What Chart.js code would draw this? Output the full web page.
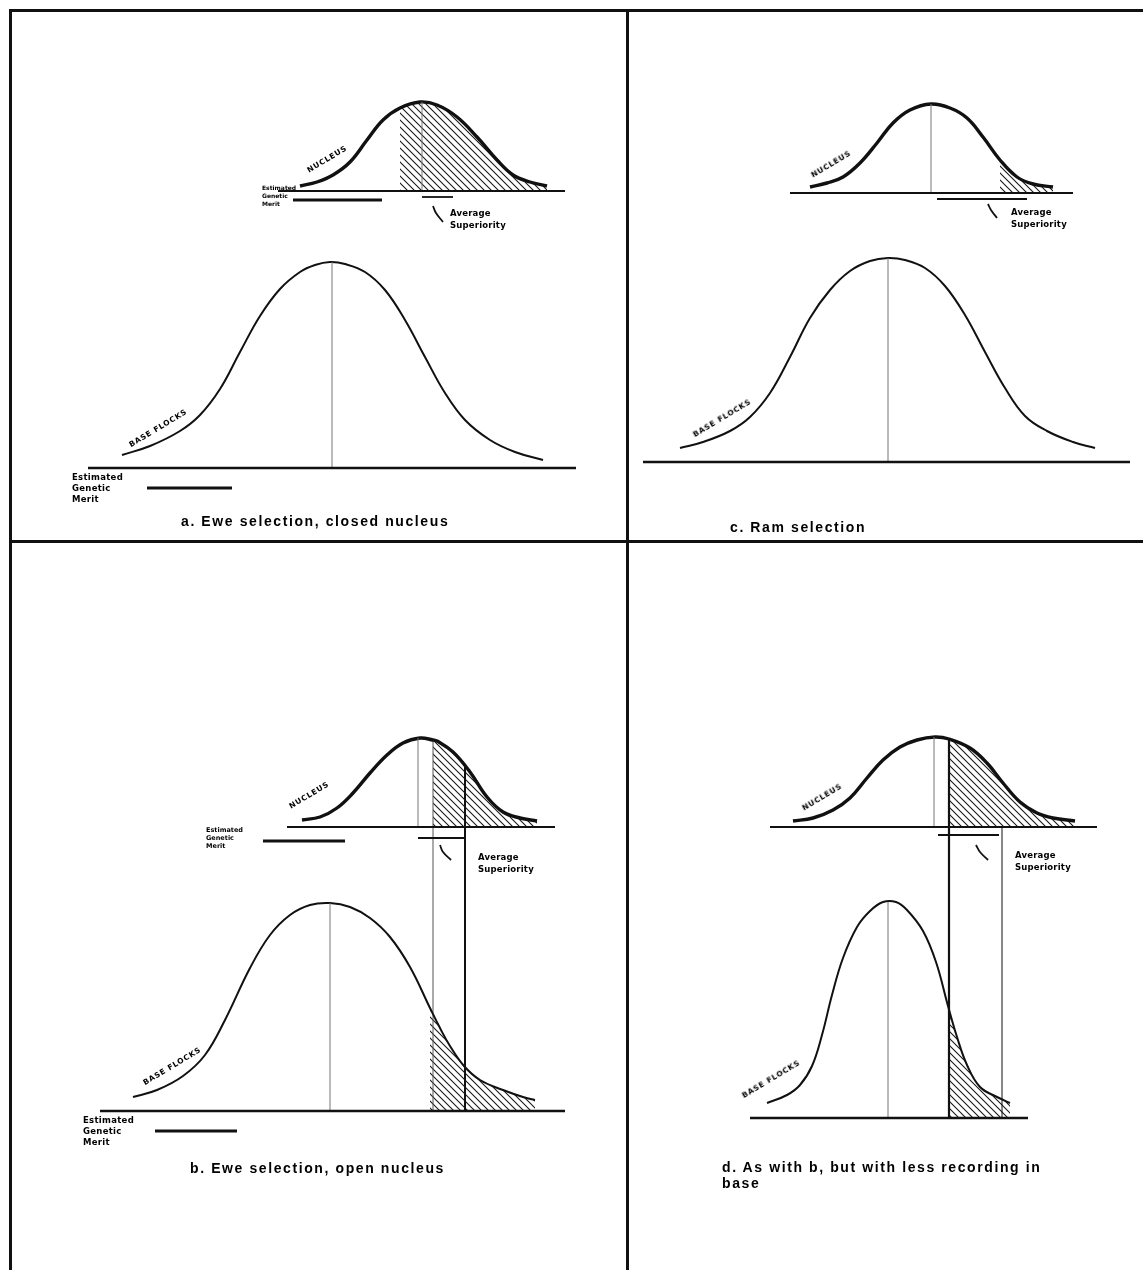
<!DOCTYPE html>
<html lang="en">
<head>
<meta charset="UTF-8">
<title>Nucleus breeding schemes</title>
<script src="https://cdn.jsdelivr.net/npm/chart.js"></script>
<style>
  body { margin: 0; background: #fff; }
  #page { position: relative; width: 1143px; height: 1270px; overflow: hidden; font-family: "Liberation Sans", Arial, sans-serif; }
  .panel { position: absolute; }
  .panel canvas { position: absolute; left: 0; top: 0; }
  .rule { position: absolute; background: #111; }
  .lbl { position: absolute; white-space: nowrap; font-weight: bold; color: #000; }
  .tag { font-family: "DejaVu Sans"; font-size: 7.5px; letter-spacing: 0.8px; transform: translate(-50%, -50%) rotate(-31deg); }
  .egm { font-family: "DejaVu Sans"; font-size: 8.5px; line-height: 11px; letter-spacing: 0.3px; }
  .egm-s { font-family: "DejaVu Sans"; font-size: 6px; line-height: 8px; }
  .avg { font-family: "DejaVu Sans"; font-size: 8.5px; line-height: 12px; letter-spacing: 0.2px; }
  .cap { font-size: 14px; letter-spacing: 1.6px; line-height: 16px; }
</style>
</head>
<body>
<div id="page">
  <div class="panel" id="pa" style="left:10px;top:10px"><canvas id="ca" width="617" height="531"></canvas></div>
  <div class="panel" id="pc" style="left:627px;top:10px"><canvas id="cc" width="516" height="531"></canvas></div>
  <div class="panel" id="pb" style="left:10px;top:541px"><canvas id="cb" width="617" height="729"></canvas></div>
  <div class="panel" id="pd" style="left:627px;top:541px"><canvas id="cd" width="516" height="729"></canvas></div>

  <!-- frame -->
  <div class="rule" style="left:9px;top:9px;width:1134px;height:3px"></div>
  <div class="rule" style="left:9px;top:9px;width:3px;height:1261px"></div>
  <div class="rule" style="left:626px;top:9px;width:3px;height:1261px"></div>
  <div class="rule" style="left:9px;top:540px;width:1134px;height:3px"></div>

  <!-- a -->
  <div class="lbl tag" style="left:327px;top:159px">NUCLEUS</div>
  <div class="lbl egm-s" style="left:262px;top:184px">Estimated<br>Genetic<br>Merit</div>
  <div class="lbl avg" style="left:450px;top:207px">Average<br>Superiority</div>
  <div class="lbl tag" style="left:158px;top:428px">BASE FLOCKS</div>
  <div class="lbl egm" style="left:72px;top:472px">Estimated<br>Genetic<br>Merit</div>
  <div class="lbl cap" style="left:181px;top:513px">a. Ewe selection, closed nucleus</div>

  <!-- c -->
  <div class="lbl tag" style="left:831px;top:164px">NUCLEUS</div>
  <div class="lbl avg" style="left:1011px;top:206px">Average<br>Superiority</div>
  <div class="lbl tag" style="left:722px;top:418px">BASE FLOCKS</div>
  <div class="lbl cap" style="left:730px;top:519px">c. Ram selection</div>

  <!-- b -->
  <div class="lbl tag" style="left:309px;top:795px">NUCLEUS</div>
  <div class="lbl egm-s" style="left:206px;top:826px;font-size:6.5px">Estimated<br>Genetic<br>Merit</div>
  <div class="lbl avg" style="left:478px;top:851px">Average<br>Superiority</div>
  <div class="lbl tag" style="left:172px;top:1066px">BASE FLOCKS</div>
  <div class="lbl egm" style="left:83px;top:1115px">Estimated<br>Genetic<br>Merit</div>
  <div class="lbl cap" style="left:190px;top:1160px">b. Ewe selection, open nucleus</div>

  <!-- d -->
  <div class="lbl tag" style="left:822px;top:797px">NUCLEUS</div>
  <div class="lbl avg" style="left:1015px;top:849px">Average<br>Superiority</div>
  <div class="lbl tag" style="left:771px;top:1079px">BASE FLOCKS</div>
  <div class="lbl cap" style="left:722px;top:1159px">d. As with b, but with less recording in<br>base</div>
</div>

<script>
// genetic merit (x, relative to base flock mean) and relative frequency (y)

// a. ewe selection, closed nucleus
const aBaseMerit = [-20.8, -18, -15, -13, -11, -9, -7, -5, -3, -1.5, 0, 1.5, 3.5, 5.5, 7.5, 9.5, 11.5, 13.5, 16, 18.5, 21.3];
const aBaseFreq  = [1.3, 2.2, 3.7, 5.3, 7.9, 11.6, 15.2, 17.9, 19.6, 20.3, 20.6, 20.4, 19.6, 17.8, 14.8, 11.1, 7.5, 4.8, 2.8, 1.6, 0.8];
const aNucMerit  = [-3, -1.3, 0.3, 2, 3.7, 5.3, 7, 9, 10.7, 12.7, 14.7, 16.7, 18.3, 20, 21.7];
const aNucFreq   = [0.5, 0.9, 1.6, 2.9, 5.1, 7.1, 8.3, 8.9, 8.6, 7.4, 5.4, 3.1, 1.6, 0.9, 0.5];
const aCut = [7, null];           // selection threshold: nucleus, base
const aMean = [9.2, 0.2];         // nucleus mean, base mean
const aAxis = [[-5.2, 23.5], [-24.2, 24.6]];
const aEgm = [[-3.7, 5.2], [-18.3, -9.8]];
const aSup = [9.2, 12.3];
const aTickMerit = [10.3, 10.6, 11.3];
const aTickLevel = [-1.5, -2.2, -3.1];

// c. ram selection
const cBaseMerit = [-20.8, -18.5, -15.8, -13.8, -11.8, -9.8, -7.8, -5.8, -3.8, -1.8, 0, 1.7, 3.7, 5.7, 7.7, 9.7, 11.7, 13.7, 15.9, 18.5, 20.7];
const cBaseFreq  = [1.4, 2, 3.1, 4.5, 6.9, 10.5, 14.4, 17.2, 19.1, 20.1, 20.4, 20.2, 19.4, 17.6, 14.7, 11, 7.4, 4.6, 3.1, 2, 1.4];
const cNucMerit  = [-7.8, -6.1, -4.5, -2.8, -1.1, 0.5, 2.2, 4.3, 6.2, 7.9, 9.5, 11.2, 12.9, 14.5, 16.5];
const cNucFreq   = [0.6, 1, 1.6, 3, 5, 7, 8.3, 8.9, 8.5, 7.5, 5.6, 3.3, 1.6, 0.9, 0.6];
const cCut = [11.2, null];
const cMean = [4.3, 0];
const cAxis = [[-9.8, 18.5], [-24.5, 24.2]];
const cSup = [4.9, 13.9];
const cTickMerit = [10, 10.3, 10.9];
const cTickLevel = [-1.1, -1.7, -2.5];

// b. ewe selection, open nucleus
const bBaseMerit = [-19.7, -17.3, -14.7, -12.5, -10.5, -8, -6, -4, -2, 0, 2, 4, 6, 8, 10, 11, 12, 13.4, 15, 17.3, 19.3, 20.5];
const bBaseFreq  = [1.4, 2.1, 3.5, 5.6, 9.1, 14.3, 17.6, 19.6, 20.6, 20.8, 20.4, 19.3, 17.4, 14.4, 10.3, 8.3, 6.5, 4.5, 3.1, 2.1, 1.4, 1.1];
const bNucMerit  = [-2.8, -1, 0.7, 2.3, 4, 5.7, 7.3, 9, 10.3, 10.7, 12.3, 14, 15.7, 17.3, 19, 20.7];
const bNucFreq   = [0.7, 1, 1.9, 3.4, 5.4, 7.2, 8.4, 8.9, 8.7, 8.6, 7.5, 5.5, 3, 1.5, 0.9, 0.6];
const bCut = [10.3, 10];
const bMean = [8.8, 0];
const bAxis = [[-4.3, 22.5], [-23, 23.5]];
const bEgm = [[-6.7, 1.5], [-17.5, -9.3]];
const bSup = [8.8, 13.5];
const bDrop = [[10.3, 8.7], [13.5, 6.1]];   // lines from nucleus down to base: merit, top freq
const bTickMerit = [11, 11.3, 12.1];
const bTickLevel = [-1.8, -2.5, -3.3];

// d. as with b, less recording in base
const dBaseMerit = [-12.1, -10.1, -8.8, -7.6, -6.6, -5.6, -4.5, -3.1, -1.8, -0.5, 0.8, 1.9, 3.5, 4.8, 6, 6.9, 7.9, 9.2, 10.9, 12.2];
const dBaseFreq  = [1.5, 2.3, 3.3, 5.2, 8.3, 12.3, 16, 19.1, 20.7, 21.6, 21.6, 20.8, 18.7, 15.6, 11.2, 8.1, 5.3, 3.1, 2.1, 1.5];
const dNucMerit  = [-9.5, -7.5, -5.5, -3.8, -2.1, -0.5, 1.2, 2.9, 4.7, 6.1, 8.2, 9.9, 11.5, 13.2, 14.9, 16.5, 18.7];
const dNucFreq   = [0.6, 0.9, 1.7, 2.9, 4.9, 6.7, 8, 8.7, 9, 8.8, 7.9, 6.4, 4.4, 2.5, 1.4, 0.9, 0.6];
const dCut = [6.1, 6];
const dMean = [4.6, 0];
const dAxis = [[-11.8, 20.9], [-13.8, 14]];
const dSup = [5, 11.1];
const dDrop = [[6.1, 8.8], [11.4, 0]];
const dTickMerit = [8.8, 9.2, 10];
const dTickLevel = [-1.8, -2.5, -3.3];

// panel boxes on the page (px) and where the baselines sit
const layout = {
  a: { left: 10, top: 10, w: 617, h: 531, meanPx: 330, basePx: 468, nucPx: 191, egmDy: [9, 20], supDy: 6, dropW: [1, 2] },
  c: { left: 627, top: 10, w: 516, h: 531, meanPx: 888, basePx: 462, nucPx: 193, egmDy: [0, 0], supDy: 6, dropW: [1, 2] },
  b: { left: 10, top: 541, w: 617, h: 729, meanPx: 330, basePx: 1111, nucPx: 827, egmDy: [14, 20], supDy: 11, dropW: [1, 2] },
  d: { left: 627, top: 541, w: 516, h: 729, meanPx: 888, basePx: 1118, nucPx: 827, egmDy: [0, 0], supDy: 8, dropW: [2.2, 1] }
};

function pts(xs, ys) { return xs.map((x, i) => ({ x: x, y: ys[i] })); }
function seg(x1, y1, x2, y2) { return [{ x: x1, y: y1 }, { x: x2, y: y2 }]; }

function hatchPattern() {
  const c = document.createElement('canvas');
  c.width = 7; c.height = 7;
  const g = c.getContext('2d');
  g.strokeStyle = '#1a1a1a';
  g.lineWidth = 1.1;
  g.beginPath();
  g.moveTo(-1, -1); g.lineTo(8, 8);
  g.moveTo(-1, 6); g.lineTo(2, 9);
  g.moveTo(6, -1); g.lineTo(9, 2);
  g.stroke();
  return g.createPattern(c, 'repeat');
}
const hatch = hatchPattern();

function line(data, axis, width, color, extra) {
  return Object.assign({
    data: data, yAxisID: axis, borderColor: color || '#111', borderWidth: width,
    pointRadius: 0, fill: false, tension: 0, order: 1
  }, extra || {});
}
const curve = { tension: 0.4 };

function drawPanel(id, p) {
  const L = layout[id];
  const baseInNuc = (L.nucPx - L.basePx) / 10;   // base baseline expressed on nucleus axis
  const nuc = pts(p.nucX, p.nucY);
  const base = pts(p.baseX, p.baseY);
  const ds = [];

  // hatched selected parts
  if (p.cut[0] !== null) {
    ds.push(line(nuc.filter(q => q.x >= p.cut[0]), 'yN', 0, 'rgba(0,0,0,0)',
      Object.assign({ fill: 'origin', backgroundColor: hatch, order: 9 }, curve)));
  }
  if (p.cut[1] !== null) {
    ds.push(line(base.filter(q => q.x >= p.cut[1]), 'y', 0, 'rgba(0,0,0,0)',
      Object.assign({ fill: 'origin', backgroundColor: hatch, order: 9 }, curve)));
  }

  // baselines
  ds.push(line(seg(p.axis[1][0], 0, p.axis[1][1], 0), 'y', 2.6));
  ds.push(line(seg(p.axis[0][0], 0, p.axis[0][1], 0), 'yN', 2.2));

  // means
  ds.push(line(seg(p.mean[1], 0, p.mean[1], Math.max(...p.baseY)), 'y', 1, '#777'));
  ds.push(line(seg(p.mean[0], 0, p.mean[0], Math.max(...p.nucY)), 'yN', 1, '#777'));

  // distributions
  ds.push(line(base, 'y', 2, '#111', curve));
  ds.push(line(nuc, 'yN', 3.4, '#111', curve));

  // estimated genetic merit bars
  if (p.egm) {
    ds.push(line(seg(p.egm[0][0], -L.egmDy[0] / 10, p.egm[0][1], -L.egmDy[0] / 10), 'yN', 3.2));
    ds.push(line(seg(p.egm[1][0], -L.egmDy[1] / 10, p.egm[1][1], -L.egmDy[1] / 10), 'y', 3.2));
  }
  // average superiority bar and pointer
  ds.push(line(seg(p.sup[0], -L.supDy / 10, p.sup[1], -L.supDy / 10), 'yN', 1.8));
  ds.push(line(pts(p.tickX, p.tickY), 'yN', 1.8, '#111', { tension: 0.4 }));

  // lines carried down to the base flocks
  if (p.drop) {
    p.drop.forEach((d, i) => {
      ds.push(line(seg(d[0], baseInNuc, d[0], d[1]), 'yN', L.dropW[i], i === 0 && id === 'b' ? '#555' : '#111'));
    });
  }

  new Chart(document.getElementById('c' + id), {
    type: 'line',
    data: { datasets: ds },
    options: {
      responsive: false,
      animation: false,
      events: [],
      layout: { padding: 0 },
      plugins: { legend: { display: false }, tooltip: { enabled: false } },
      scales: {
        x: { type: 'linear', display: false, min: (L.left - L.meanPx) / 10, max: (L.left + L.w - L.meanPx) / 10 },
        y: { type: 'linear', display: false, min: (L.basePx - L.top - L.h) / 10, max: (L.basePx - L.top) / 10 },
        yN: { type: 'linear', display: false, min: (L.nucPx - L.top - L.h) / 10, max: (L.nucPx - L.top) / 10 }
      }
    }
  });
}

drawPanel('a', { baseX: aBaseMerit, baseY: aBaseFreq, nucX: aNucMerit, nucY: aNucFreq, cut: aCut, mean: aMean, axis: aAxis, egm: aEgm, sup: aSup, tickX: aTickMerit, tickY: aTickLevel });
drawPanel('c', { baseX: cBaseMerit, baseY: cBaseFreq, nucX: cNucMerit, nucY: cNucFreq, cut: cCut, mean: cMean, axis: cAxis, sup: cSup, tickX: cTickMerit, tickY: cTickLevel });
drawPanel('b', { baseX: bBaseMerit, baseY: bBaseFreq, nucX: bNucMerit, nucY: bNucFreq, cut: bCut, mean: bMean, axis: bAxis, egm: bEgm, sup: bSup, drop: bDrop, tickX: bTickMerit, tickY: bTickLevel });
drawPanel('d', { baseX: dBaseMerit, baseY: dBaseFreq, nucX: dNucMerit, nucY: dNucFreq, cut: dCut, mean: dMean, axis: dAxis, sup: dSup, drop: dDrop, tickX: dTickMerit, tickY: dTickLevel });
</script>
</body>
</html>
